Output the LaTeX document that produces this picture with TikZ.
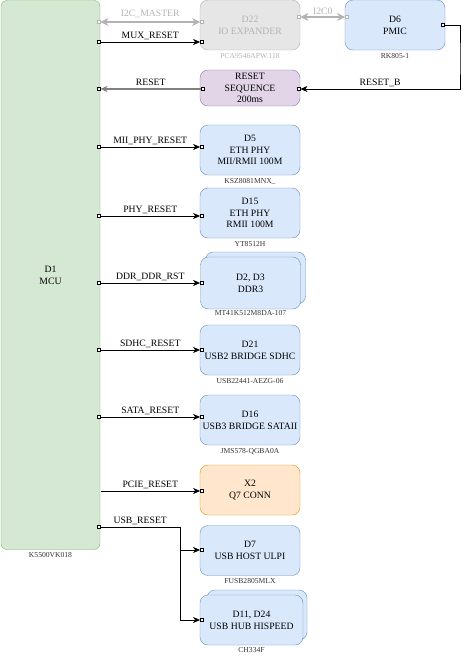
\documentclass[tikz,border=0pt]{standalone}
\usepackage{fontspec}
\setmainfont{Liberation Serif}
\usetikzlibrary{positioning}
\usetikzlibrary{arrows.meta}

\definecolor{mcufill}{HTML}{D5E8D4}
\definecolor{mculine}{HTML}{82B366}
\definecolor{chipfill}{HTML}{DAE8FC}
\definecolor{chipline}{HTML}{6C8EBF}
\definecolor{offfill}{HTML}{E6E6E6}
\definecolor{offline}{HTML}{B3B3B3}
\definecolor{seqfill}{HTML}{E1D5E7}
\definecolor{seqline}{HTML}{9673A6}
\definecolor{connfill}{HTML}{FFE6CC}
\definecolor{connline}{HTML}{D79B00}
\definecolor{partgray}{HTML}{333333}

\begin{document}
\begin{tikzpicture}[x=1pt, y=-1pt,
 font=\fontsize{9.7}{11.7}\selectfont,
 chip/.style={rectangle, rounded corners=8pt, draw=chipline, fill=chipfill,
 minimum width=100pt, minimum height=50pt, align=center, inner sep=1pt},
 part/.style={font=\fontsize{7.6}{8}\selectfont, text=partgray, inner sep=0pt},
 port/.style={rectangle, draw, fill=white, minimum size=3.2pt, inner sep=0pt, line width=0.6pt},
 rst/.style={-{Stealth[length=7pt, width=6pt, inset=2pt]}, line width=0.8pt},
 bus/.style={{Stealth[length=8pt, width=8pt, inset=2.5pt]}-{Stealth[length=8pt, width=8pt, inset=2.5pt]}, line width=2pt, draw=offline},
 lbl/.style={inner sep=1pt}]

 \useasboundingbox (0,0) rectangle (469,656);

 % controller
 \node[rectangle, rounded corners=6pt, draw=mculine, fill=mcufill,
 minimum width=99pt, minimum height=549pt, align=center] (mcu) at (50.5,275) {D1\\MCU};
 \node[part, below=3pt of mcu] (mcu-part) {K5500VK018};

 % top row
 \node[chip, draw=offline, fill=offfill, text=offline] (d22) at (250,25) {D22\\IO EXPANDER};
 \node[part, text=offline, below=3pt of d22] (d22-part) {PCA9546APW.118};
 \node[chip] (d6) at (395,25) {D6\\PMIC};
 \node[part, below=3pt of d6] (d6-part) {RK805-1};
 \node[chip, draw=seqline, fill=seqfill, minimum height=36pt] (seq) at (250,88) {RESET\\SEQUENCE\\200ms};

 % reset targets
 \node[chip] (d5) at (250,150) {D5\\ETH PHY\\MII/RMII 100M};
 \node[part, below=3pt of d5] (d5-part) {KSZ8081MNX\_};
 \node[chip] (d15) at (250,213) {D15\\ETH PHY\\RMII 100M};
 \node[part, below=3pt of d15] (d15-part) {YT8512H};
 \node[chip, minimum height=52pt] (d2b) at (255.5,278) {};
 \node[chip, minimum height=52pt] (d2) at (250.5,283) {D2, D3\\DDR3};
 \node[part, below=1pt of d2] (d2-part) {MT41K512M8DA-107};
 \node[chip] (d21) at (250,350) {D21\\USB2 BRIDGE SDHC};
 \node[part, below=3pt of d21] (d21-part) {USB22441-AEZG-06};
 \node[chip] (d16) at (250,420) {D16\\USB3 BRIDGE SATAII};
 \node[part, below=3pt of d16] (d16-part) {JMS578-QGBA0A};
 \node[chip, draw=connline, fill=connfill] (x2) at (250,490) {X2\\Q7 CONN};
 \node[chip] (d7) at (250,550.5) {D7\\USB HOST ULPI};
 \node[part, below=3pt of d7] (d7-part) {FUSB2805MLX};
 \node[chip, minimum width=100pt] (d11b) at (257,615) {};
 \node[chip, minimum width=103pt] (d11) at (251.5,620) {D11, D24\\USB HUB HISPEED};
 \node[part, below=2pt of d11] (d11-part) {CH334F};

 % ports
 \node[port, draw=offline] (i2c-a) at (98.5,22) {};
 \node[port, draw=offline] (i2c-b) at (202,22) {};
 \node[port, draw=offline] (i2c0-a) at (298.5,17) {};
 \node[port, draw=offline] (i2c0-b) at (347,17) {};
 \node[port] (mux-a) at (98.5,42) {};
 \node[port] (mux-b) at (202,42) {};
 \node[port] (rst-a) at (98.5,89) {};
 \node[port] (rst-b) at (203,89) {};
 \node[port] (rstb-a) at (443,25) {};
 \node[port] (rstb-b) at (298.5,89) {};
 \node[port] (mii-a) at (98.5,147) {};
 \node[port] (mii-b) at (202,147) {};
 \node[port] (phy-a) at (98.5,216) {};
 \node[port] (phy-b) at (202,216) {};
 \node[port] (ddr-a) at (98.5,283) {};
 \node[port] (ddr-b) at (202,283) {};
 \node[port] (sdhc-a) at (98.5,350) {};
 \node[port] (sdhc-b) at (202,350) {};
 \node[port] (sata-a) at (98.5,417) {};
 \node[port] (sata-b) at (202,417) {};
 \node[port] (pcie-b) at (202,491) {};
 \node[port] (usb-a) at (98.5,527) {};
 \node[port] (usb-b) at (202,550) {};
 \node[port] (usb-c) at (202,620) {};
 \coordinate (pcie-a) at (100.5,491);
 \coordinate (usb-j) at (180,527);

 % buses
 \draw[bus] (i2c-a) -- node[lbl, above=2pt, text=offline] (i2c-l) {I2C\_MASTER} (i2c-b);
 \draw[bus] (i2c0-a) -- node[lbl, above=0pt, text=offline] (i2c0-l) {I2C0} (i2c0-b);

 % resets
 \draw[rst] (mux-a) -- node[lbl, above=1pt] (mux-l) {MUX\_RESET} (mux-b);
 \draw[rst, draw=gray, line width=1.6pt] (rst-b) -- node[lbl, above=2pt, text=black] (rst-l) {RESET} (rst-a);
 \draw[rst] (rstb-a) -| (460,60) |- node[lbl, pos=0.75, above=1pt] (rstb-l) {RESET\_B} (rstb-b);
 \draw[rst] (mii-a) -- node[lbl, above=1pt] (mii-l) {MII\_PHY\_RESET} (mii-b);
 \draw[rst] (phy-a) -- node[lbl, above=1pt] (phy-l) {PHY\_RESET} (phy-b);
 \draw[rst] (ddr-a) -- node[lbl, above=1pt] (ddr-l) {DDR\_DDR\_RST} (ddr-b);
 \draw[rst] (sdhc-a) -- node[lbl, above=1pt] (sdhc-l) {SDHC\_RESET} (sdhc-b);
 \draw[rst] (sata-a) -- node[lbl, above=1pt] (sata-l) {SATA\_RESET} (sata-b);
 \draw[rst] (pcie-a) -- node[lbl, above=1pt] (pcie-l) {PCIE\_RESET} (pcie-b);
 \draw[line width=0.8pt] (usb-a) -- node[lbl, above=1pt] (usb-l) {USB\_RESET} (usb-j);
 \draw[rst] (usb-j) |- (usb-b);
 \draw[rst] (usb-j) |- (usb-c);

\end{tikzpicture}
\end{document}
